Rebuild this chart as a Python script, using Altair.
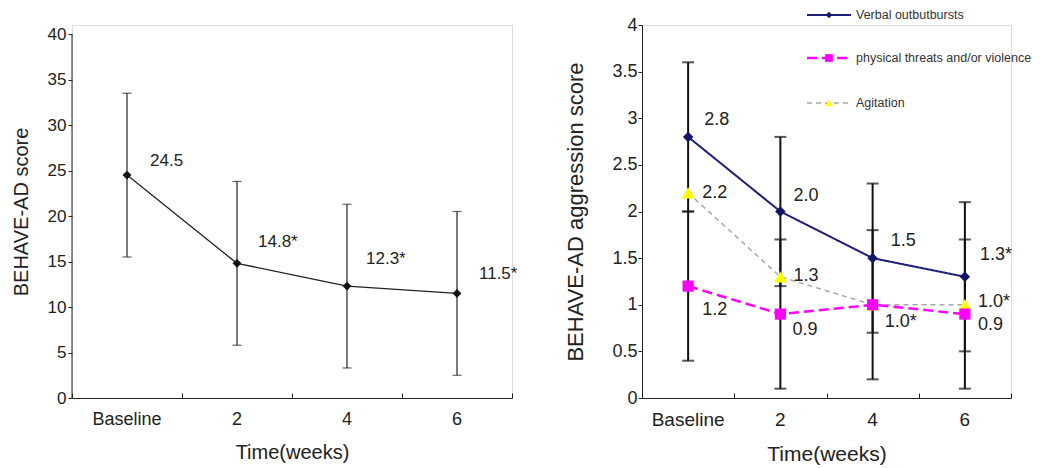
import altair as alt
import pandas as pd

FONT = "Liberation Sans"
INK = "#222222"

time_labels = ["Baseline", "2", "4", "6"]

# ---- left panel: total BEHAVE-AD score ----
total_mean = [24.5, 14.8, 12.3, 11.5]
total_lo = [15.5, 5.8, 3.3, 2.5]
total_hi = [33.5, 23.8, 21.3, 20.5]
total_text = ["24.5", "14.8*", "12.3*", "11.5*"]

# ---- right panel: aggression sub-scores ----
series_names = ["Verbal outbutbursts", "physical threats and/or violence", "Agitation"]
verbal_mean = [2.8, 2.0, 1.5, 1.3]
verbal_lo = [2.0, 1.2, 0.7, 0.5]
verbal_hi = [3.6, 2.8, 2.3, 2.1]
verbal_text = ["2.8", "2.0", "1.5", "1.3*"]
physical_mean = [1.2, 0.9, 1.0, 0.9]
physical_lo = [0.4, 0.1, 0.2, 0.1]
physical_hi = [2.0, 1.7, 1.8, 1.7]
physical_text = ["1.2", "0.9", "1.0*", "0.9"]
agitation_mean = [2.2, 1.3, 1.0, 1.0]
agitation_text = ["2.2", "1.3", "", "1.0*"]

# ---- styles (not data) ----
L_W, L_H = 440, 373
R_W, R_H = 369, 373
total_dx = [23, 21, 19, 22]
total_dy = [-14, -21, -27, -19]
verbal_dx = [16, 13, 18, 15]
verbal_dy = [-17, -16, -17, -22]
physical_dx = [14, 12, 12, 13]
physical_dy = [24, 16, 17, 11]
agitation_dx = [14, 13, 12, 13]
agitation_dy = [0, -1, 0, -3]
series_colors = ["#1b1f78", "#ff00ff", "#a8a8a8"]
marker_fill = ["#101569", "#ff00ff", "#ffff00"]
series_shapes = ["diamond", "square", "triangle-up"]
series_dash = [[1, 0], [10, 5], [5, 4]]
series_width = [2, 2.5, 1.5]
marker_size = [110, 125, 170]
legend_marker_size = [40, 60, 60]
legend_y = [-10, 33, 78]

left_df = pd.DataFrame({"time": time_labels, "mean": total_mean, "lo": total_lo,
                        "hi": total_hi, "txt": total_text})
frames = []
for name, m, lo, hi, tx in [
    (series_names[0], verbal_mean, verbal_lo, verbal_hi, verbal_text),
    (series_names[1], physical_mean, physical_lo, physical_hi, physical_text),
    (series_names[2], agitation_mean, [None] * 4, [None] * 4, agitation_text),
]:
    frames.append(pd.DataFrame({"series": name, "time": time_labels, "mean": m,
                                "lo": lo, "hi": hi, "txt": tx}))
right_df = pd.concat(frames, ignore_index=True)


def x_enc(axis):
    return alt.X("time:N", sort=time_labels,
                 scale=alt.Scale(type="band", domain=time_labels, paddingInner=0, paddingOuter=0),
                 axis=axis)


def bottom_axis(lab_fs, title_fs):
    return alt.Axis(orient="bottom", title="Time(weeks)", labelAngle=0, ticks=False, tickSize=0,
                    labelPadding=12, labelFontSize=lab_fs, titleFontSize=title_fs,
                    titleFontWeight="normal", titlePadding=14, labelFont=FONT, titleFont=FONT,
                    labelColor=INK, titleColor=INK, domainColor=INK, grid=False)


def tick_axis(h):
    return alt.Axis(orient="top", offset=-h, labels=False, domain=False, ticks=True, tickSize=5,
                    tickBand="extent", tickColor=INK, title=None, grid=False)


# ---------------- left chart ----------------
l_yaxis = alt.Axis(values=[0, 5, 10, 15, 20, 25, 30, 35, 40], domain=False, tickSize=4,
                   tickColor=INK, labelPadding=2, labelFontSize=17, labelFont=FONT,
                   labelColor=INK, title="BEHAVE-AD score", titleFontSize=20,
                   titleFont=FONT, titleFontWeight="normal", titleColor=INK,
                   titlePadding=16, grid=False)
l_scale = alt.Scale(domain=[0, 41], nice=False)

lbase = alt.Chart(left_df)
l_err = lbase.mark_rule(color=INK, strokeWidth=1.2).encode(
    x=x_enc(bottom_axis(18, 20)), y=alt.Y("lo:Q", scale=l_scale, axis=l_yaxis), y2="hi:Q")
l_cap_lo = lbase.mark_tick(color=INK, size=9, thickness=1.2).encode(
    x=x_enc(tick_axis(L_H)), y=alt.Y("lo:Q", scale=l_scale, axis=l_yaxis))
l_cap_hi = lbase.mark_tick(color=INK, size=9, thickness=1.2).encode(
    x=x_enc(None), y=alt.Y("hi:Q", scale=l_scale, axis=l_yaxis))
l_line = lbase.mark_line(color=INK, strokeWidth=1.3).encode(
    x=x_enc(None), y=alt.Y("mean:Q", scale=l_scale, axis=l_yaxis))
l_pts = lbase.mark_point(shape="diamond", filled=True, color="#111111", size=80, opacity=1).encode(
    x=x_enc(None), y=alt.Y("mean:Q", scale=l_scale, axis=l_yaxis))
l_axisline = alt.Chart(pd.DataFrame({"a": [0]})).mark_rule(color=INK, strokeWidth=1).encode(
    x=alt.value(0), y=alt.datum(0, scale=l_scale), y2=alt.datum(40))
l_texts = []
for i, t in enumerate(time_labels):
    l_texts.append(lbase.transform_filter(alt.datum.time == t).mark_text(
        align="left", baseline="middle", dx=total_dx[i], dy=total_dy[i], fontSize=17,
        font=FONT, color=INK).encode(
        x=x_enc(None), y=alt.Y("mean:Q", scale=l_scale, axis=l_yaxis), text="txt:N"))

left = alt.layer(l_err, l_cap_lo, l_cap_hi, l_line, l_pts, l_axisline, *l_texts).resolve_axis(
    x="independent").properties(width=L_W, height=L_H)

# ---------------- right chart ----------------
r_yaxis = alt.Axis(values=[0, 0.5, 1, 1.5, 2, 2.5, 3, 3.5, 4], format="~g", tickSize=4,
                   tickColor=INK, domainColor=INK, labelPadding=1, labelFontSize=18,
                   labelFont=FONT, labelColor=INK, title="BEHAVE-AD aggression score",
                   titleFontSize=22, titleFont=FONT, titleFontWeight="normal",
                   titleColor=INK, titlePadding=24, grid=False)
r_scale = alt.Scale(domain=[0, 4], nice=False)

rbase = alt.Chart(right_df)
err_df = rbase.transform_filter(alt.datum.series != series_names[2])
r_err = err_df.mark_rule(color="#111111", strokeWidth=2).encode(
    x=x_enc(bottom_axis(19, 21)), y=alt.Y("lo:Q", scale=r_scale, axis=r_yaxis), y2="hi:Q")
r_cap_lo = err_df.mark_tick(color="#111111", size=12, thickness=2).encode(
    x=x_enc(tick_axis(R_H)), y=alt.Y("lo:Q", scale=r_scale, axis=r_yaxis))
r_cap_hi = err_df.mark_tick(color="#111111", size=12, thickness=2).encode(
    x=x_enc(None), y=alt.Y("hi:Q", scale=r_scale, axis=r_yaxis))

r_lines = []
r_points = []
for k in [2, 1, 0]:
    sub = rbase.transform_filter(alt.datum.series == series_names[k])
    r_lines.append(sub.mark_line(color=series_colors[k], strokeWidth=series_width[k],
                                 strokeDash=series_dash[k]).encode(
        x=x_enc(None), y=alt.Y("mean:Q", scale=r_scale, axis=r_yaxis)))
for k in [2, 1, 0]:
    sub = rbase.transform_filter(alt.datum.series == series_names[k])
    r_points.append(sub.mark_point(shape=series_shapes[k], filled=True, color=marker_fill[k],
                                   size=marker_size[k], opacity=1).encode(
        x=x_enc(None), y=alt.Y("mean:Q", scale=r_scale, axis=r_yaxis)))

r_texts = []
offs = [(verbal_dx, verbal_dy), (physical_dx, physical_dy), (agitation_dx, agitation_dy)]
for k in range(3):
    for i, t in enumerate(time_labels):
        sub = rbase.transform_filter((alt.datum.series == series_names[k]) & (alt.datum.time == t))
        r_texts.append(sub.mark_text(align="left", baseline="middle", dx=offs[k][0][i],
                                     dy=offs[k][1][i], fontSize=18, font=FONT,
                                     color=INK).encode(
            x=x_enc(None), y=alt.Y("mean:Q", scale=r_scale, axis=r_yaxis), text="txt:N"))

legend_layers = []
for k in range(3):
    ld = alt.Chart(pd.DataFrame({"label": [series_names[k]]}))
    legend_layers.append(ld.mark_rule(color=series_colors[k], strokeWidth=series_width[k],
                                      strokeDash=series_dash[k]).encode(
        x=alt.value(165), x2=alt.value(209), y=alt.value(legend_y[k])))
    legend_layers.append(ld.mark_point(shape=series_shapes[k], filled=True, color=marker_fill[k],
                                       size=legend_marker_size[k], opacity=1).encode(
        x=alt.value(187), y=alt.value(legend_y[k])))
    legend_layers.append(ld.mark_text(align="left", baseline="middle", fontSize=12.5, font=FONT,
                                      color="#333333").encode(
        x=alt.value(214), y=alt.value(legend_y[k]), text="label:N"))

right = alt.layer(r_err, r_cap_lo, r_cap_hi, *r_lines, *r_points, *r_texts,
                  *legend_layers).resolve_axis(x="independent").properties(width=R_W, height=R_H)

chart = alt.hconcat(left, right, spacing=46).properties(
    padding={"left": 2, "top": 0, "right": 0, "bottom": 0}
).configure_view(stroke=None).configure(background="white")

chart.save("out.html", embed_options={"renderer": "svg", "actions": False})
